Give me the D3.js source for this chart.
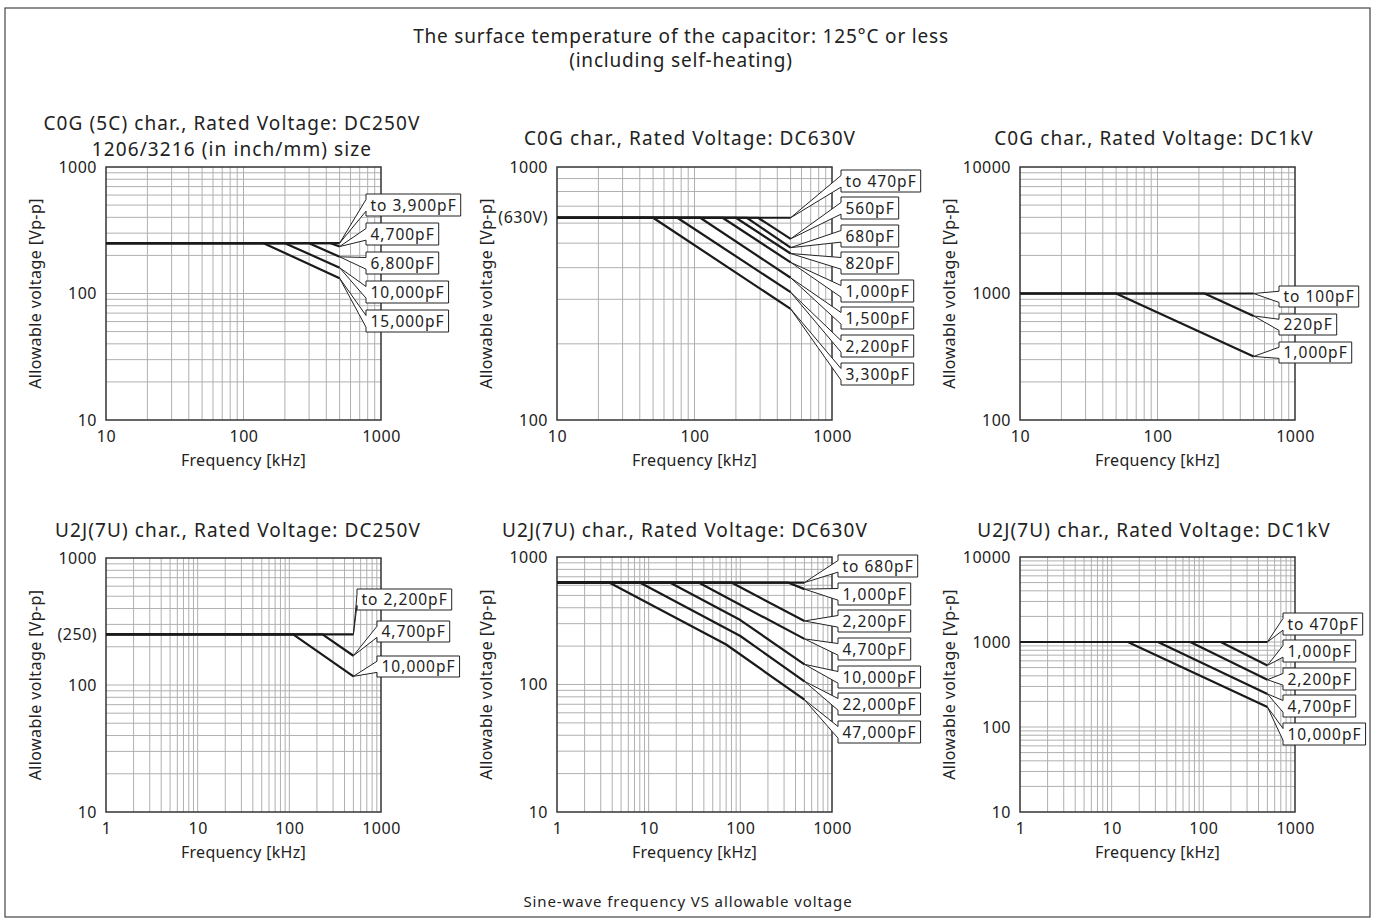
<!DOCTYPE html>
<html><head><meta charset="utf-8">
<script src="https://cdn.jsdelivr.net/npm/d3@7"></script>
<style>
body{margin:0;background:#fff;}
text{font-family:'Noto Sans',sans-serif;fill:#222;}
</style>
</head><body>
<svg id="c" width="1375" height="922"></svg>
<script>
// ---------------- DATA ----------------
const titleLines = ["The surface temperature of the capacitor: 125°C or less", "(including self-heating)"];
const caption = "Sine-wave frequency VS allowable voltage";
const xAxisTitle = "Frequency [kHz]";
const yAxisTitle = "Allowable voltage [Vp-p]";

// Panel 1: C0G 250V
const p1Title = ["C0G (5C) char., Rated Voltage: DC250V", "1206/3216 (in inch/mm) size"];
const p1XDomain = [10, 1000];
const p1YDomain = [10, 1000];
const p1XTicks = [10, 100, 1000];
const p1YTicks = [10, 100, 1000];
const p1YTickLabels = ["10", "100", "1000"];
const p1Labels = ["to 3,900pF", "4,700pF", "6,800pF", "10,000pF", "15,000pF"];
const p1Series = [
  [[10,250],[500,250]],
  [[10,250],[430,250],[500,235]],
  [[10,250],[300,250],[500,195]],
  [[10,250],[200,250],[500,160]],
  [[10,250],[140,250],[500,132]]
];

// Panel 2: C0G 630V
const p2Title = ["C0G char., Rated Voltage: DC630V"];
const p2XDomain = [10, 1000];
const p2YDomain = [100, 1000];
const p2XTicks = [10, 100, 1000];
const p2YTicks = [100, 630, 1000];
const p2YTickLabels = ["100", "(630V)", "1000"];
const p2Labels = ["to 470pF", "560pF", "680pF", "820pF", "1,000pF", "1,500pF", "2,200pF", "3,300pF"];
const p2Series = [
  [[10,630],[500,630]],
  [[10,630],[290,630],[500,520]],
  [[10,630],[240,630],[500,480]],
  [[10,630],[200,630],[500,455]],
  [[10,630],[160,630],[500,420]],
  [[10,630],[110,630],[500,365]],
  [[10,630],[75,630],[500,320]],
  [[10,630],[50,630],[500,275]]
];

// Panel 3: C0G 1kV
const p3Title = ["C0G char., Rated Voltage: DC1kV"];
const p3XDomain = [10, 1000];
const p3YDomain = [100, 10000];
const p3XTicks = [10, 100, 1000];
const p3YTicks = [100, 1000, 10000];
const p3YTickLabels = ["100", "1000", "10000"];
const p3Labels = ["to 100pF", "220pF", "1,000pF"];
const p3Series = [
  [[10,1000],[500,1000]],
  [[10,1000],[220,1000],[500,665]],
  [[10,1000],[50,1000],[500,318]]
];

// Panel 4: U2J 250V
const p4Title = ["U2J(7U) char., Rated Voltage: DC250V"];
const p4XDomain = [1, 1000];
const p4YDomain = [10, 1000];
const p4XTicks = [1, 10, 100, 1000];
const p4YTicks = [10, 100, 250, 1000];
const p4YTickLabels = ["10", "100", "(250)", "1000"];
const p4Labels = ["to 2,200pF", "4,700pF", "10,000pF"];
const p4Series = [
  [[1,250],[500,250]],
  [[1,250],[230,250],[500,170]],
  [[1,250],[110,250],[500,117]]
];

// Panel 5: U2J 630V
const p5Title = ["U2J(7U) char., Rated Voltage: DC630V"];
const p5XDomain = [1, 1000];
const p5YDomain = [10, 1000];
const p5XTicks = [1, 10, 100, 1000];
const p5YTicks = [10, 100, 1000];
const p5YTickLabels = ["10", "100", "1000"];
const p5Labels = ["to 680pF", "1,000pF", "2,200pF", "4,700pF", "10,000pF", "22,000pF", "47,000pF"];
const p5Series = [
  [[1,630],[500,630]],
  [[1,630],[330,630],[500,560]],
  [[1,630],[80,630],[500,315]],
  [[1,630],[35,630],[500,228]],
  [[1,630],[17,630],[100,320],[500,144]],
  [[1,630],[8,630],[100,240],[500,106]],
  [[1,630],[3.7,630],[70,206],[500,76]]
];

// Panel 6: U2J 1kV
const p6Title = ["U2J(7U) char., Rated Voltage: DC1kV"];
const p6XDomain = [1, 1000];
const p6YDomain = [10, 10000];
const p6XTicks = [1, 10, 100, 1000];
const p6YTicks = [10, 100, 1000, 10000];
const p6YTickLabels = ["10", "100", "1000", "10000"];
const p6Labels = ["to 470pF", "1,000pF", "2,200pF", "4,700pF", "10,000pF"];
const p6Series = [
  [[1,1000],[500,1000]],
  [[1,1000],[155,1000],[500,530]],
  [[1,1000],[72,1000],[500,360]],
  [[1,1000],[32,1000],[500,245]],
  [[1,1000],[15,1000],[500,172]]
];

// ---------------- LAYOUT ----------------
const panels = [
  {title:p1Title, xd:p1XDomain, yd:p1YDomain, xt:p1XTicks, yt:p1YTicks, ytl:p1YTickLabels, labels:p1Labels, series:p1Series,
   x0:106, x1:381, y0:167, y1:420, tx:232, ty:[130,156], lx:[366], ltop:[194,223,252,281,310], lh:22},
  {title:p2Title, xd:p2XDomain, yd:p2YDomain, xt:p2XTicks, yt:p2YTicks, ytl:p2YTickLabels, labels:p2Labels, series:p2Series,
   x0:557, x1:832, y0:167, y1:420, tx:690, ty:[145], lx:[841], ltop:[170,197,225,252,280,307,335,363], lh:22},
  {title:p3Title, xd:p3XDomain, yd:p3YDomain, xt:p3XTicks, yt:p3YTicks, ytl:p3YTickLabels, labels:p3Labels, series:p3Series,
   x0:1020, x1:1295, y0:167, y1:420, tx:1154, ty:[145], lx:[1279], ltop:[286,314,342], lh:21},
  {title:p4Title, xd:p4XDomain, yd:p4YDomain, xt:p4XTicks, yt:p4YTicks, ytl:p4YTickLabels, labels:p4Labels, series:p4Series,
   x0:106, x1:381, y0:558, y1:812, tx:238, ty:[537], lx:[357,377,377], ltop:[589,621,656], lh:21},
  {title:p5Title, xd:p5XDomain, yd:p5YDomain, xt:p5XTicks, yt:p5YTicks, ytl:p5YTickLabels, labels:p5Labels, series:p5Series,
   x0:557, x1:832, y0:557, y1:812, tx:685, ty:[537], lx:[838], ltop:[555,583,610,638,666,693,721], lh:22},
  {title:p6Title, xd:p6XDomain, yd:p6YDomain, xt:p6XTicks, yt:p6YTicks, ytl:p6YTickLabels, labels:p6Labels, series:p6Series,
   x0:1020, x1:1295, y0:557, y1:812, tx:1154, ty:[537], lx:[1283], ltop:[613,640,668,695,723], lh:22}
];

const svg = d3.select("#c");

svg.append("rect").attr("x",5).attr("y",8).attr("width",1365).attr("height",909)
  .attr("fill","none").attr("stroke","#444").attr("stroke-width",1.2);

svg.selectAll("text.main").data(titleLines).join("text").attr("class","main")
  .attr("x",681).attr("y",(d,i)=>43+i*24).attr("text-anchor","middle")
  .style("font-size","19px").style("letter-spacing","0.8px").text(d=>d);

svg.append("text").attr("x",688).attr("y",907).attr("text-anchor","middle")
  .style("font-size","15px").style("letter-spacing","0.9px").text(caption);

function logGrid(dom){
  const out=[];
  const lo=Math.round(Math.log10(dom[0])), hi=Math.round(Math.log10(dom[1]));
  for(let e=lo;e<hi;e++) for(let k=1;k<=9;k++){
    const v=k*Math.pow(10,e);
    if(v>dom[0] && v<dom[1]) out.push(v);
  }
  return out;
}

panels.forEach(p=>{
  const x=d3.scaleLog().domain(p.xd).range([p.x0,p.x1]);
  const y=d3.scaleLog().domain(p.yd).range([p.y1,p.y0]);
  const g=svg.append("g");

  // grid
  g.selectAll("line.gx").data(logGrid(p.xd)).join("line")
    .attr("x1",d=>x(d)).attr("x2",d=>x(d)).attr("y1",p.y0).attr("y2",p.y1)
    .attr("stroke","#b0b0b0").attr("stroke-width",1);
  g.selectAll("line.gy").data(logGrid(p.yd)).join("line")
    .attr("y1",d=>y(d)).attr("y2",d=>y(d)).attr("x1",p.x0).attr("x2",p.x1)
    .attr("stroke","#b0b0b0").attr("stroke-width",1);

  // border
  g.append("rect").attr("x",p.x0).attr("y",p.y0).attr("width",p.x1-p.x0).attr("height",p.y1-p.y0)
    .attr("fill","none").attr("stroke","#333").attr("stroke-width",1.5);

  // x axis tick labels
  const xa=d3.axisBottom(x).tickValues(p.xt).tickFormat(d=>String(d)).tickSize(0).tickPadding(11);
  const gx=g.append("g").attr("transform",`translate(0,${p.y1})`).call(xa);
  gx.select(".domain").remove();
  gx.selectAll("text").style("font-size","16px").style("letter-spacing","0.5px")
    .attr("fill","#222").style("font-family","'Noto Sans',sans-serif");

  // y axis tick labels
  const ya=d3.axisLeft(y).tickValues(p.yt).tickFormat((d,i)=>p.ytl[i]).tickSize(0).tickPadding(9);
  const gy=g.append("g").attr("transform",`translate(${p.x0},0)`).call(ya);
  gy.select(".domain").remove();
  gy.selectAll("text").style("font-size","16px").style("letter-spacing","0.5px")
    .attr("fill","#222").style("font-family","'Noto Sans',sans-serif");

  // axis titles
  g.append("text").attr("x",(p.x0+p.x1)/2).attr("y",p.y1+46).attr("text-anchor","middle")
    .style("font-size","16px").style("letter-spacing","0.3px").text(xAxisTitle);
  g.append("text").attr("transform",`translate(${p.x0-65},${(p.y0+p.y1)/2}) rotate(-90)`)
    .attr("text-anchor","middle").style("font-size","16px").style("letter-spacing","0.4px").text(yAxisTitle);

  // panel title
  p.title.forEach((t,i)=>{
    g.append("text").attr("x",p.tx).attr("y",p.ty[i]).attr("text-anchor","middle")
      .style("font-size","19px").style("letter-spacing","1.1px").text(t);
  });

  // series lines
  const line=d3.line().x(d=>x(d[0])).y(d=>y(d[1]));
  g.selectAll("path.s").data(p.series).join("path")
    .attr("d",line).attr("fill","none").attr("stroke","#1a1a1a").attr("stroke-width",2.2)
    .attr("stroke-linejoin","round");

  // callout labels
  p.labels.forEach((lab,i)=>{
    const s=p.series[i];
    const end=s[s.length-1];
    const px=x(end[0]), py=y(end[1]);
    const bx=p.lx[Math.min(i,p.lx.length-1)], by=p.ltop[i], h=p.lh;
    const lg=g.append("g");
    const path=lg.append("path");
    const t=lg.append("text").attr("x",bx+4.5).attr("y",by+h/2).attr("dy","0.36em")
      .style("font-size","15.5px").style("letter-spacing","1px").text(lab);
    const w=t.node().getComputedTextLength()+8.5;
    const d=`M${bx},${by} L${bx+w},${by} L${bx+w},${by+h} L${bx},${by+h} L${bx},${by+h*0.78} L${px},${py} L${bx},${by+h*0.25} Z`;
    path.attr("d",d).attr("fill","#fff").attr("stroke","#222").attr("stroke-width",1);
  });
});
</script>
</body></html>
